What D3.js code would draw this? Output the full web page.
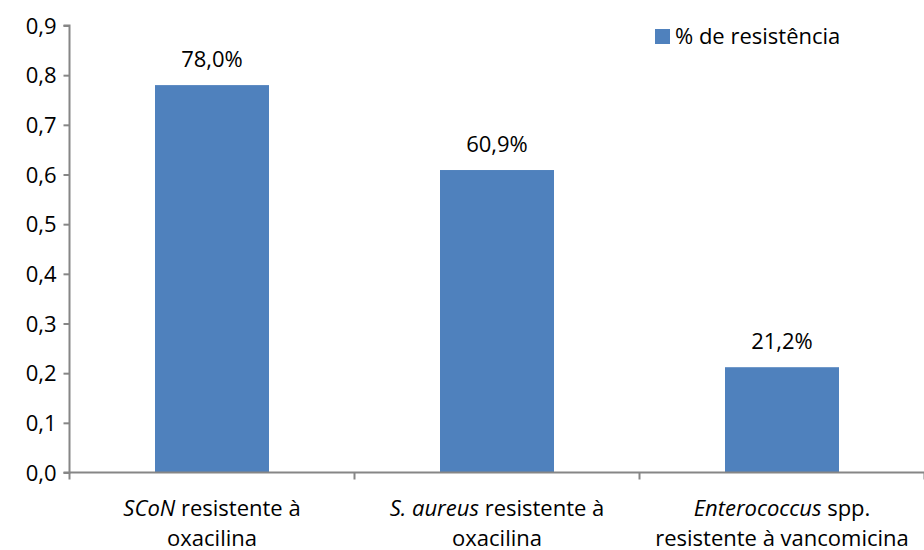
<!DOCTYPE html>
<html>
<head>
<meta charset="utf-8">
<script src="https://cdn.jsdelivr.net/npm/d3@7"></script>
<style>
  body { margin: 0; background: #fff; }
  text { font-family: "Open Sans", "Noto Sans", sans-serif; fill: #000; }
</style>
</head>
<body>
<svg width="924" height="550"></svg>
<script>
// Chart data
var categories = ["SCoN", "S. aureus", "Enterococcus"];
var catItalic = ["SCoN", "S. aureus", "Enterococcus"];
var catLine1Rest = [" resistente à", " resistente à", " spp."];
var catLine2 = ["oxacilina", "oxacilina", "resistente à vancomicina"];
var values = [0.78, 0.609, 0.212];
var valueLabels = ["78,0%", "60,9%", "21,2%"];
var yTicks = [0, 0.1, 0.2, 0.3, 0.4, 0.5, 0.6, 0.7, 0.8, 0.9];
var seriesName = "% de resistência";

var svg = d3.select("svg"),
  margin = { top: 25.5, right: 0, bottom: 77.5, left: 69.5 },
  width = 924 - margin.left - margin.right,
  height = 550 - margin.top - margin.bottom;

var g = svg.append("g")
  .attr("transform", "translate(" + margin.left + "," + margin.top + ")");

var xScale = d3.scaleBand()
  .domain(categories)
  .range([0, 855])
  .paddingInner(0.6)
  .paddingOuter(0.3);

var yScale = d3.scaleLinear()
  .domain([0, 0.9])
  .range([height, 0]);

var axisColor = "#868686";
var fs = "22px";

// Bars
g.selectAll(".bar")
  .data(values)
  .enter()
  .append("rect")
  .attr("class", "bar")
  .attr("x", (d, i) => xScale(categories[i]))
  .attr("y", (d) => yScale(d))
  .attr("width", xScale.bandwidth())
  .attr("height", (d) => height - yScale(d))
  .attr("fill", "#4f81bd");

// Value labels
g.selectAll(".vlabel")
  .data(values)
  .enter()
  .append("text")
  .attr("x", (d, i) => xScale(categories[i]) + xScale.bandwidth() / 2)
  .attr("y", (d) => yScale(d) - 18)
  .attr("text-anchor", "middle")
  .style("font-size", fs)
  .text((d, i) => valueLabels[i]);

// Y axis
var yAxis = g.append("g")
  .call(d3.axisLeft(yScale).tickValues(yTicks).tickSize(6).tickPadding(7)
    .tickFormat((d) => d3.format(".1f")(d).replace(".", ",")));
yAxis.selectAll("path, line").attr("stroke", axisColor).attr("stroke-width", 2);
yAxis.select(".domain").attr("d", "M-6," + height + "H0V0H-6");
yAxis.selectAll("text").style("font-size", fs).style("font-family", "'Open Sans', sans-serif").attr("fill", "#000").attr("dy", "0.35em");

// X axis: boundaries between categories
var bounds = d3.range(categories.length + 1).map((i) => i * 285);
var xAxis = g.append("g").attr("transform", "translate(0," + height + ")");
xAxis.append("line")
  .attr("x1", 0).attr("x2", 855)
  .attr("stroke", axisColor).attr("stroke-width", 2);
xAxis.selectAll(".xtick")
  .data(bounds)
  .enter()
  .append("line")
  .attr("x1", (d) => d).attr("x2", (d) => d)
  .attr("y1", 0).attr("y2", 7)
  .attr("stroke", axisColor).attr("stroke-width", 2);

// Category labels
var lab = xAxis.selectAll(".xlabel")
  .data(categories)
  .enter()
  .append("text")
  .attr("text-anchor", "middle")
  .style("font-size", fs)
  .attr("transform", (d) => "translate(" + (xScale(d) + xScale.bandwidth() / 2) + ",0)");
lab.append("tspan").attr("x", 0).attr("y", 43)
  .style("font-style", "italic").text((d, i) => catItalic[i]);
lab.append("tspan").text((d, i) => catLine1Rest[i]);
lab.append("tspan").attr("x", 0).attr("y", 73).text((d, i) => catLine2[i]);

// Legend
var legend = svg.append("g").attr("transform", "translate(655,29)");
legend.append("rect").attr("width", 15).attr("height", 15).attr("fill", "#4f81bd");
legend.append("text").attr("x", 20).attr("y", 15).style("font-size", fs).text(seriesName);
</script>
</body>
</html>
